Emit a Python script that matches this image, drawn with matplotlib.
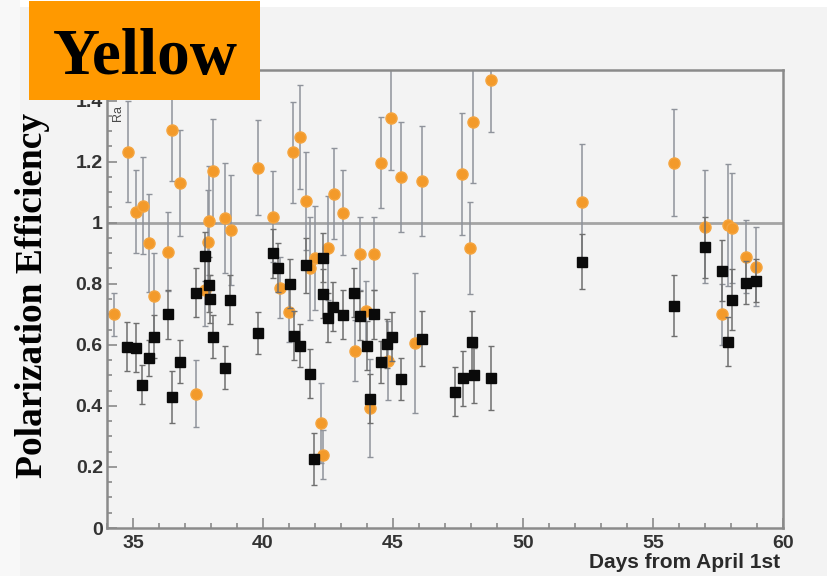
import matplotlib.pyplot as plt
from matplotlib.patches import Rectangle
from matplotlib.ticker import MultipleLocator

# orange points (circles)
days_orange = [34.27, 34.81, 35.12, 35.38, 35.61, 35.81, 36.34, 36.50, 36.80, 37.42,
               37.76, 37.88, 37.92, 38.07, 38.53, 38.76, 39.80, 40.38, 40.65, 40.99,
               41.14, 41.41, 41.64, 41.99, 41.80, 42.49, 42.72, 43.06, 42.22, 42.30,
               43.72, 44.26, 44.52, 44.91, 45.29, 46.10, 47.67, 48.06, 48.75, 47.98,
               43.95, 43.53, 44.79, 44.10, 45.83, 52.28, 55.81, 57.00, 57.89, 58.04,
               58.58, 58.96, 57.66]
eff_orange = [0.70, 1.233, 1.036, 1.056, 0.934, 0.76, 0.905, 1.305, 1.13, 0.44,
              0.78, 0.937, 1.007, 1.17, 1.016, 0.977, 1.18, 1.02, 0.787, 0.708,
              1.23, 1.28, 1.07, 0.885, 0.85, 0.918, 1.095, 1.033, 0.344, 0.24,
              0.898, 0.898, 1.197, 1.344, 1.15, 1.135, 1.16, 1.33, 1.466, 0.918,
              0.71, 0.58, 0.548, 0.393, 0.606, 1.069, 1.197, 0.987, 0.993, 0.984,
              0.889, 0.856, 0.70]
err_orange = [0.07, 0.165, 0.135, 0.16, 0.16, 0.14, 0.13, 0.17, 0.175, 0.11,
              0.12, 0.17, 0.18, 0.17, 0.18, 0.18, 0.155, 0.15, 0.10, 0.10,
              0.165, 0.17, 0.16, 0.17, 0.17, 0.17, 0.15, 0.14, 0.13, 0.08,
              0.12, 0.12, 0.15, 0.17, 0.18, 0.18, 0.20, 0.20, 0.17, 0.15,
              0.10, 0.10, 0.13, 0.16, 0.23, 0.19, 0.175, 0.185, 0.20, 0.18,
              0.12, 0.13, 0.10]

# black points (squares)
days_black = [34.77, 35.12, 35.35, 35.61, 35.81, 36.34, 36.50, 36.80, 37.42, 37.76,
              37.92, 37.96, 38.07, 38.53, 38.73, 39.80, 40.38, 40.57, 41.03, 41.18,
              41.41, 41.64, 41.80, 41.95, 42.30, 42.30, 42.49, 42.68, 43.06, 43.49,
              43.72, 43.99, 44.26, 44.52, 44.75, 44.98, 44.10, 45.29, 46.10, 47.37,
              47.71, 48.02, 48.10, 48.75, 52.28, 55.81, 57.00, 57.66, 58.04, 58.58,
              58.96, 57.89]
eff_black = [0.594, 0.59, 0.47, 0.557, 0.627, 0.70, 0.43, 0.545, 0.77, 0.89,
             0.797, 0.75, 0.626, 0.525, 0.748, 0.639, 0.90, 0.852, 0.80, 0.63,
             0.597, 0.86, 0.505, 0.226, 0.885, 0.767, 0.689, 0.725, 0.698, 0.77,
             0.695, 0.597, 0.70, 0.544, 0.603, 0.626, 0.423, 0.488, 0.62, 0.446,
             0.49, 0.61, 0.50, 0.49, 0.872, 0.728, 0.92, 0.843, 0.748, 0.803,
             0.81, 0.61]
err_black = [0.08, 0.08, 0.065, 0.06, 0.07, 0.08, 0.085, 0.07, 0.08, 0.08,
             0.09, 0.08, 0.07, 0.07, 0.08, 0.07, 0.08, 0.08, 0.08, 0.08,
             0.07, 0.09, 0.08, 0.085, 0.08, 0.08, 0.08, 0.08, 0.08, 0.08,
             0.08, 0.08, 0.08, 0.07, 0.08, 0.08, 0.08, 0.07, 0.09, 0.08,
             0.09, 0.10, 0.09, 0.105, 0.09, 0.10, 0.10, 0.10, 0.10, 0.07,
             0.07, 0.08]

ytick_vals = [0, 0.2, 0.4, 0.6, 0.8, 1.0, 1.2, 1.4]
ytick_txt = ['0', '0.2', '0.4', '0.6', '0.8', '1', '1.2', '1.4']
xtick_vals = [35, 40, 45, 50, 55, 60]

bg = '#f3f3f3'
frame = '#8a8a8a'

fig = plt.figure(figsize=(8.28, 5.76), dpi=100, facecolor=bg)
ax = fig.add_axes([0.1292, 0.0833, 0.8165, 0.7952], facecolor=bg)

ax.axhline(1.0, color='#a4a4a4', lw=2.0, zorder=1)

ax.errorbar(days_orange, eff_orange, yerr=err_orange, fmt='o', color='#f39a2a',
            ms=8, mec='#f5a540', ecolor='#8f939b', elinewidth=1.1,
            capsize=2.2, capthick=1.0, zorder=2)
ax.errorbar(days_black, eff_black, yerr=err_black, fmt='s', color='#0a0a0a',
            ms=7.2, ecolor='#6f6f6f', elinewidth=1.1,
            capsize=2.2, capthick=1.0, zorder=3)

ax.set_xlim(34.0, 60.0)
ax.set_ylim(0, 1.5)
ax.set_xticks(xtick_vals)
ax.set_yticks(ytick_vals)
ax.set_yticklabels(ytick_txt)
ax.xaxis.set_minor_locator(MultipleLocator(1))
ax.yaxis.set_minor_locator(MultipleLocator(0.05))

ax.tick_params(which='both', direction='in', color=frame, width=1.2,
               top=False, right=False)
ax.tick_params(which='major', length=7)
ax.tick_params(which='minor', length=3.5)
ax.tick_params(axis='x', pad=5)
ax.tick_params(axis='y', pad=3)
for lab in ax.get_xticklabels() + ax.get_yticklabels():
    lab.set_fontfamily('Liberation Sans')
    lab.set_fontweight('bold')
    lab.set_fontsize(14)
    lab.set_color('#333333')

for s in ax.spines.values():
    s.set_color(frame)
    s.set_linewidth(1.8)

fig.text(0.942, 0.014, 'Days from April 1st', ha='right', va='baseline',
         fontfamily='Liberation Sans', fontweight='bold', fontsize=15,
         color='#2a2a2a')

fig.text(0.039, 0.487, 'Polarization Efficiency', rotation=90, ha='center',
         va='center', fontfamily='Liberation Serif', fontweight='bold',
         fontsize=27, color='black', zorder=6)
fig.text(0.1425, 0.803, 'Ra', rotation=90, ha='center', va='center',
         fontfamily='Liberation Sans', fontsize=9, color='#4a4a4a')

# light strips along the top and left edge
fig.patches.append(Rectangle((0, 0.988), 1, 0.012, transform=fig.transFigure,
                             facecolor='white', edgecolor='none', zorder=-2))
fig.patches.append(Rectangle((0, 0), 0.024, 1, transform=fig.transFigure,
                             facecolor='#f8f8f8', edgecolor='none', zorder=-2))

# title box
fig.patches.append(Rectangle((0.035, 0.8264), 0.279, 0.172, transform=fig.transFigure,
                             facecolor='#ff9900', edgecolor='none', zorder=10))
fig.text(0.175, 0.871, 'Yellow', ha='center', va='baseline',
         fontfamily='Liberation Serif', fontweight='bold', fontsize=47,
         color='black', zorder=11)

plt.savefig('out.png', dpi=100, facecolor=bg)
